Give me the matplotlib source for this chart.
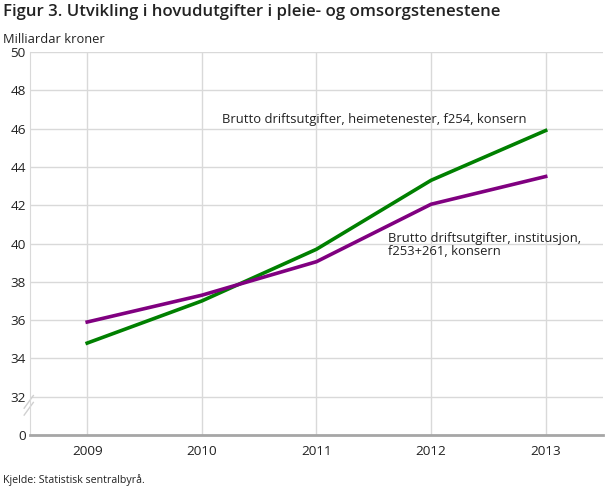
import matplotlib.pyplot as plt
import numpy as np

plt.rcParams['font.family'] = ['Open Sans', 'DejaVu Sans']

# Data (milliardar kroner)
aar = [2009, 2010, 2011, 2012, 2013]
heimetenester = [34.8, 37.0, 39.7, 43.3, 45.9]
institusjon = [35.9, 37.3, 39.05, 42.05, 43.5]
y_ticks = [30, 32, 34, 36, 38, 40, 42, 44, 46, 48, 50]
y_labels = ['0', '32', '34', '36', '38', '40', '42', '44', '46', '48', '50']

fig = plt.figure(figsize=(6.1, 4.88), dpi=100)
ax = fig.add_axes([0.049, 0.1086, 0.9395, 0.7848])

ax.plot(aar, heimetenester, color='#008000', lw=2.6, zorder=3)
ax.plot(aar, institusjon, color='#800080', lw=2.6, zorder=3)

ax.set_xlim(2008.5, 2013.5)
ax.set_ylim(30, 50)
ax.set_xticks(aar)
ax.set_yticks(y_ticks)
ax.set_yticklabels(y_labels)
ax.tick_params(axis='both', length=0, labelsize=9.7, colors='#222222')
ax.tick_params(axis='x', pad=7)
ax.tick_params(axis='y', pad=3)

# rutenett (ingen linje ved 0)
for y in y_ticks[1:]:
    ax.axhline(y, color='#d9d9d9', lw=1, zorder=1)
for x in aar:
    ax.axvline(x, color='#d9d9d9', lw=1, zorder=1)

for side in ['top', 'right']:
    ax.spines[side].set_visible(False)
ax.spines['left'].set_color('#d9d9d9')
ax.spines['bottom'].set_color('#a6a6a6')
ax.spines['bottom'].set_linewidth(2)

# brudd i aksen
for dy in [0, 0.018]:
    ax.plot([-0.01, 0.006], [0.052 + dy, 0.085 + dy],
            transform=ax.transAxes, color='#d0d0d0', lw=1, clip_on=False)

ax.text(2010.18, 46.3, 'Brutto driftsutgifter, heimetenester, f254, konsern',
        fontsize=9.4, color='#222222')
ax.text(2011.62, 39.4, 'Brutto driftsutgifter, institusjon,\nf253+261, konsern',
        fontsize=9.4, color='#222222', linespacing=1.05)

fig.text(0.005, 0.975, 'Figur 3. Utvikling i hovudutgifter i pleie- og omsorgstenestene',
         fontsize=12.1, fontweight='semibold', color='#222222', va='center')
fig.text(0.005, 0.92, 'Milliardar kroner', fontsize=9.3, color='#222222', va='center')
fig.text(0.005, 0.016, 'Kjelde: Statistisk sentralbyrå.', fontsize=7.7, color='#222222', va='center')

fig.savefig('out.png', dpi=100)
